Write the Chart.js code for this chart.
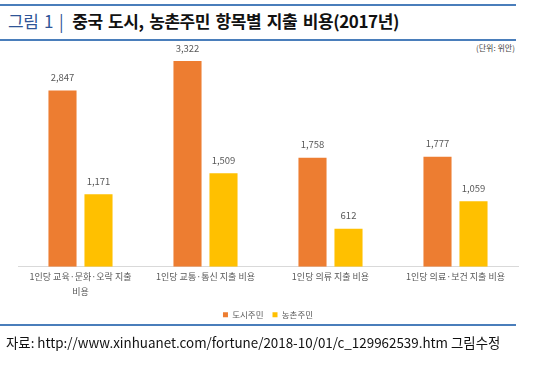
<!DOCTYPE html>
<html><head><meta charset="utf-8">
<script src="https://cdn.jsdelivr.net/npm/chart.js@4.4.0/dist/chart.umd.min.js"></script>
<style>
html,body{margin:0;padding:0;background:#fff;}
#wrap{position:relative;width:539px;height:365px;overflow:hidden;font-family:"Noto Sans CJK KR",sans-serif;}
.hl{position:absolute;left:0;width:516px;height:2px;background:#4a7ebb;}
#title{position:absolute;left:8px;top:8px;font-size:17px;font-weight:bold;color:#111;white-space:nowrap;letter-spacing:-0.4px;word-spacing:2px;}
#title .fig{color:#2f5597;font-weight:normal;word-spacing:2px;}
#title .bar{color:#2f5597;font-weight:normal;margin:0 9px 0 6px;}
#unit{position:absolute;left:476px;top:42px;font-size:8px;color:#444;}
#src{position:absolute;left:6px;top:332px;font-size:13.4px;color:#111;white-space:nowrap;}
#c{position:absolute;left:0;top:0;}
</style></head>
<body><div id="wrap">
<div class="hl" style="top:4px"></div>
<div id="title"><span class="fig">그림 1</span><span class="bar">|</span>중국 도시, 농촌주민 항목별 지출 비용(2017년)</div>
<div class="hl" style="top:39px"></div>
<div id="unit">(단위: 위안)</div>
<canvas id="c" width="539" height="333"></canvas>
<div class="hl" style="top:324px"></div>
<div id="src">자료: http://www.xinhuanet.com/fortune/2018-10/01/c_129962539.htm 그림수정</div>
</div>
<script>
const categories = [["1인당 교육·문화·오락 지출", "비용"], "1인당 교통·통신 지출 비용", "1인당 의류 지출 비용", "1인당 의료·보건 지출 비용"];
const seriesNames = ["도시주민", "농촌주민"];
const urban = [2847, 3322, 1758, 1777];
const rural = [1171, 1509, 612, 1059];
const colors = ["#ed7d31", "#ffc000"];

const valueLabels = {
  id: 'valueLabels',
  afterDatasetsDraw(chart) {
    const ctx = chart.ctx;
    ctx.save();
    ctx.font = '9.5px "Noto Sans CJK KR", sans-serif';
    ctx.fillStyle = '#595959';
    ctx.textAlign = 'center';
    ctx.textBaseline = 'middle';
    chart.data.datasets.forEach((ds, i) => {
      chart.getDatasetMeta(i).data.forEach((el, j) => {
        ctx.fillText(ds.data[j].toLocaleString('en-US'), el.x, el.y - 13);
      });
    });
    ctx.restore();
  }
};

new Chart(document.getElementById('c'), {
  type: 'bar',
  data: {
    labels: categories,
    datasets: [
      { label: seriesNames[0], data: urban, backgroundColor: colors[0], categoryPercentage: 0.576, barPercentage: 0.78 },
      { label: seriesNames[1], data: rural, backgroundColor: colors[1], categoryPercentage: 0.576, barPercentage: 0.78 }
    ]
  },
  options: {
    responsive: false,
    animation: false,
    devicePixelRatio: 1,
    layout: { padding: { left: 18, right: 21, top: 50, bottom: 4 } },
    plugins: {
      legend: {
        position: 'bottom',
        labels: { boxWidth: 5, boxHeight: 5, padding: 9, color: '#595959', font: { size: 8.5, family: '"Noto Sans CJK KR", sans-serif' } }
      },
      tooltip: { enabled: false }
    },
    scales: {
      x: {
        grid: { display: false, drawTicks: false },
        border: { color: '#d9d9d9', width: 1 },
        ticks: { color: '#595959', padding: 3, maxRotation: 0, autoSkip: false, font: { size: 9, lineHeight: 1.6, family: '"Noto Sans CJK KR", sans-serif' } }
      },
      y: {
        display: false,
        min: 0, max: 3500
      }
    }
  },
  plugins: [valueLabels]
});
</script>
</body></html>
